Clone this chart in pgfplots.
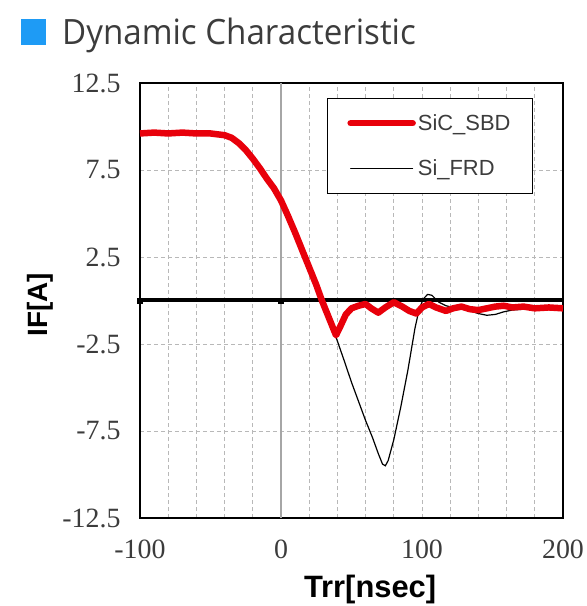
\documentclass[border=0pt]{standalone}
\usepackage{pgfplots}
\pgfplotsset{compat=1.18}
\usepackage{fontspec}
\setmainfont{Liberation Serif}
\newfontfamily\arialf{Liberation Sans}
\newfontfamily\titlefont[FakeStretch=0.95]{Open Sans}
\definecolor{sicred}{HTML}{E8000B}
\definecolor{titleblue}{HTML}{1E9BF5}
\definecolor{gridgray}{HTML}{B8B8B8}
\definecolor{txtgray}{HTML}{3C3C3C}
\begin{document}
\begin{tikzpicture}
\useasboundingbox (-140bp,-88bp) rectangle (447bp,518bp);
% title
\fill[titleblue] (-119bp,473bp) rectangle (-94bp,499bp);
\node[anchor=base west, inner sep=0pt, text=txtgray] at (-78bp,473bp) {\titlefont\fontsize{35}{35}\selectfont Dynamic Characteristic};
\begin{axis}[
  at={(0,0)}, anchor=south west,
  scale only axis, width=423bp, height=435bp,
  xmin=-100, xmax=200, ymin=-12.5, ymax=12.5,
  xtick={-100,0,100,200},
  minor x tick num=4,
  ytick={-12.5,-7.5,-2.5,2.5,7.5,12.5},
  yticklabels={-12.5,-7.5,-2.5,2.5,7.5,12.5},
  xmajorgrids, xminorgrids, ymajorgrids,
  grid style={gridgray, line width=0.8bp, dash pattern=on 4bp off 3bp},
  major tick length=0pt, minor tick length=0pt,
  axis line style={black, line width=1.4bp},
  /pgf/number format/assume math mode=true,
  ticklabel style={font=\fontsize{28}{28}\selectfont, text=txtgray},
  yticklabel style={xshift=-16bp},
  xticklabel style={yshift=-18bp},
  xlabel={Trr[nsec]},
  ylabel={IF[A]},
  xlabel style={font=\arialf\bfseries\fontsize{31}{31}\selectfont, at={(axis description cs:0.544,0)}, anchor=base, yshift=-79bp, inner sep=0pt},
  ylabel style={font=\arialf\bfseries\fontsize{28}{28}\selectfont, at={(axis description cs:0,0.49)}, anchor=center, yshift=100bp, inner sep=0pt},
  legend style={at={(rel axis cs:0.929,0.9655)}, anchor=north east, draw=black, line width=1bp,
    font=\arialf\fontsize{22}{22}\selectfont, text=txtgray, inner xsep=20bp, inner ysep=14bp, row sep=24bp,
    nodes={inner sep=2bp}},
  legend cell align=left,
  legend image code/.code={\draw[#1, line cap=round] (0bp,0bp) -- (62bp,0bp);},
  reverse legend,
  clip=true,
]
% reference lines
\addplot[forget plot, gray!70, line width=1.5bp] coordinates {(0,-12.5) (0,12.5)};
\addplot[forget plot, black, line width=4bp] coordinates {(-100,0) (200,0)};
\addplot[forget plot, only marks, mark=square*, mark size=2.5bp, black] coordinates {(-100,0) (0,0)};
% Si_FRD
\addplot[black, line width=1.2bp] coordinates {
(-100,9.7) (-90,9.65) (-80,9.7) (-70,9.6) (-60,9.7) (-50,9.6) (-40,9.5) (-35,9.35)
(-30,9.05) (-25,8.65) (-20,8.15) (-15,7.6) (-10,7.0) (-5,6.45) (0,5.75) (5,4.85)
(10,3.9) (15,2.9) (20,1.9) (25,0.9) (29,0.0) (34,-1.0) (39,-2.1)
(45,-3.5) (50,-4.7) (55,-5.8) (60,-6.9) (65,-7.9) (69,-8.8) (72,-9.4) (74,-9.5)
(76,-9.2) (80,-8.0) (85,-6.1) (90,-4.0) (95,-1.6) (98,-0.5) (101,0.1) (104,0.35)
(107,0.3) (112,-0.1) (117,-0.3) (122,-0.4) (128,-0.45) (134,-0.6) (140,-0.75)
(146,-0.85) (152,-0.8) (158,-0.65) (164,-0.55) (172,-0.5) (180,-0.45) (190,-0.4) (200,-0.35)
};
\addlegendentry{Si\_FRD}
% SiC_SBD
\addplot[sicred, line width=6.5bp, line join=round] coordinates {
(-100,9.6) (-90,9.65) (-80,9.6) (-70,9.65) (-60,9.6) (-50,9.6) (-40,9.5) (-35,9.35)
(-30,9.05) (-25,8.65) (-20,8.15) (-15,7.6) (-10,7.0) (-5,6.45) (0,5.75) (5,4.85)
(10,3.9) (15,2.9) (20,1.9) (25,0.9) (29,0.0) (34,-1.0) (39,-2.0)
(42,-1.5) (46,-0.8) (50,-0.45) (55,-0.3) (60,-0.2) (64,-0.45) (69,-0.7) (74,-0.4)
(80,-0.1) (86,-0.35) (91,-0.6) (96,-0.75) (100,-0.4) (105,-0.2) (110,-0.4) (117,-0.6)
(122,-0.45) (128,-0.35) (134,-0.5) (140,-0.55) (146,-0.45) (152,-0.35) (158,-0.3)
(164,-0.4) (172,-0.35) (180,-0.45) (190,-0.4) (200,-0.45)
};
\addlegendentry{SiC\_SBD}
\end{axis}
\end{tikzpicture}
\end{document}
